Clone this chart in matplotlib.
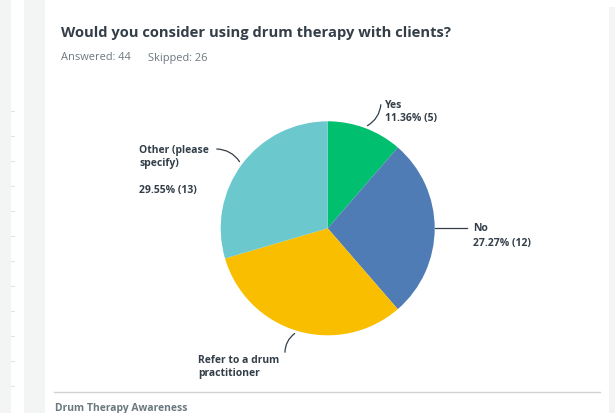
import matplotlib
matplotlib.use("Agg")
import matplotlib.pyplot as plt
from matplotlib.patches import Rectangle

# ---- data ----
title = "Would you consider using drum therapy with clients?"
answered = 44
skipped = 26
categories = ["Yes", "No", "Refer to a drum\npractitioner", "Other (please\nspecify)"]
counts = [5, 12, 14, 13]
percent_labels = ["11.36% (5)", "27.27% (12)", None, "29.55% (13)"]
colors = ["#00BF6F", "#507CB6", "#F9BE00", "#6BC8CD"]
footer = "Drum Therapy Awareness"

W, H = 615, 414
fig = plt.figure(figsize=(W / 100, H / 100), dpi=100)
ax = fig.add_axes([0, 0, 1, 1])
ax.set_xlim(0, W)
ax.set_ylim(0, H)
ax.axis("off")

def Y(y):
    return H - y

# background strips
bg = "#f3f4f4"
ax.add_patch(Rectangle((0, 0), 11, H, color=bg, lw=0))
ax.add_patch(Rectangle((24, 0), 21, H, color=bg, lw=0))
ax.add_patch(Rectangle((609, 0), 6, Y(8), color=bg, lw=0))
for ty in range(112, 400, 25):
    ax.plot([11, 14], [Y(ty), Y(ty)], color="#e2e4e5", lw=0.8)

font = "Open Sans"
dark = "#333e48"
grey = "#6b787f"

ax.text(61, Y(33), title, fontsize=10.6, fontweight="bold", color=dark,
        family=font, va="center", ha="left")
ax.text(61, Y(58), f"Answered: {answered}", fontsize=7.9, color=grey,
        family=font, va="center", ha="left")
ax.text(148, Y(58), f"Skipped: {skipped}", fontsize=7.9, color=grey,
        family=font, va="center", ha="left")

# pie
cx, cy, r = 327.7, Y(229.3), 107
ax.pie(counts, colors=colors, startangle=90, counterclock=False,
       center=(cx, cy), radius=r, wedgeprops=dict(linewidth=0),
       frame=True)
ax.set_xlim(0, W)
ax.set_ylim(0, H)
ax.set_aspect("auto")
ax.axis("off")

lc = "#333e48"
lab = dict(fontsize=7.5, fontweight="bold", color=dark, family=font,
           ha="left", va="center", linespacing=1.35)

# Yes
ax.annotate("", xy=(365, Y(128)), xytext=(381, Y(103)),
            arrowprops=dict(arrowstyle="-", color=lc, lw=0.9,
                            connectionstyle="arc3,rad=-0.3"))
ax.text(385, Y(105), categories[0], **lab)
ax.text(385, Y(119), percent_labels[0], **lab)

# No
ax.plot([435, 467], [Y(229), Y(229)], color=lc, lw=0.9)
ax.text(473, Y(229), categories[1], **lab)
ax.text(473, Y(244), percent_labels[1], **lab)

# Refer
ax.annotate("", xy=(297, Y(333)), xytext=(285, Y(356)),
            arrowprops=dict(arrowstyle="-", color=lc, lw=0.9,
                            connectionstyle="arc3,rad=-0.3"))
ax.text(198, Y(367), categories[2], **lab)

# Other
ax.annotate("", xy=(241, Y(165)), xytext=(214, Y(150)),
            arrowprops=dict(arrowstyle="-", color=lc, lw=0.9,
                            connectionstyle="arc3,rad=-0.3"))
ax.text(139, Y(157), categories[3], **lab)
ax.text(139, Y(191), percent_labels[3], **lab)

# separator and footer
ax.plot([54, 600], [Y(393), Y(393)], color="#d0d2d3", lw=1)
ax.text(55, Y(409), footer, fontsize=7.5, fontweight="bold", color=grey,
        family=font, va="center", ha="left")

fig.savefig("out.png", dpi=100)
